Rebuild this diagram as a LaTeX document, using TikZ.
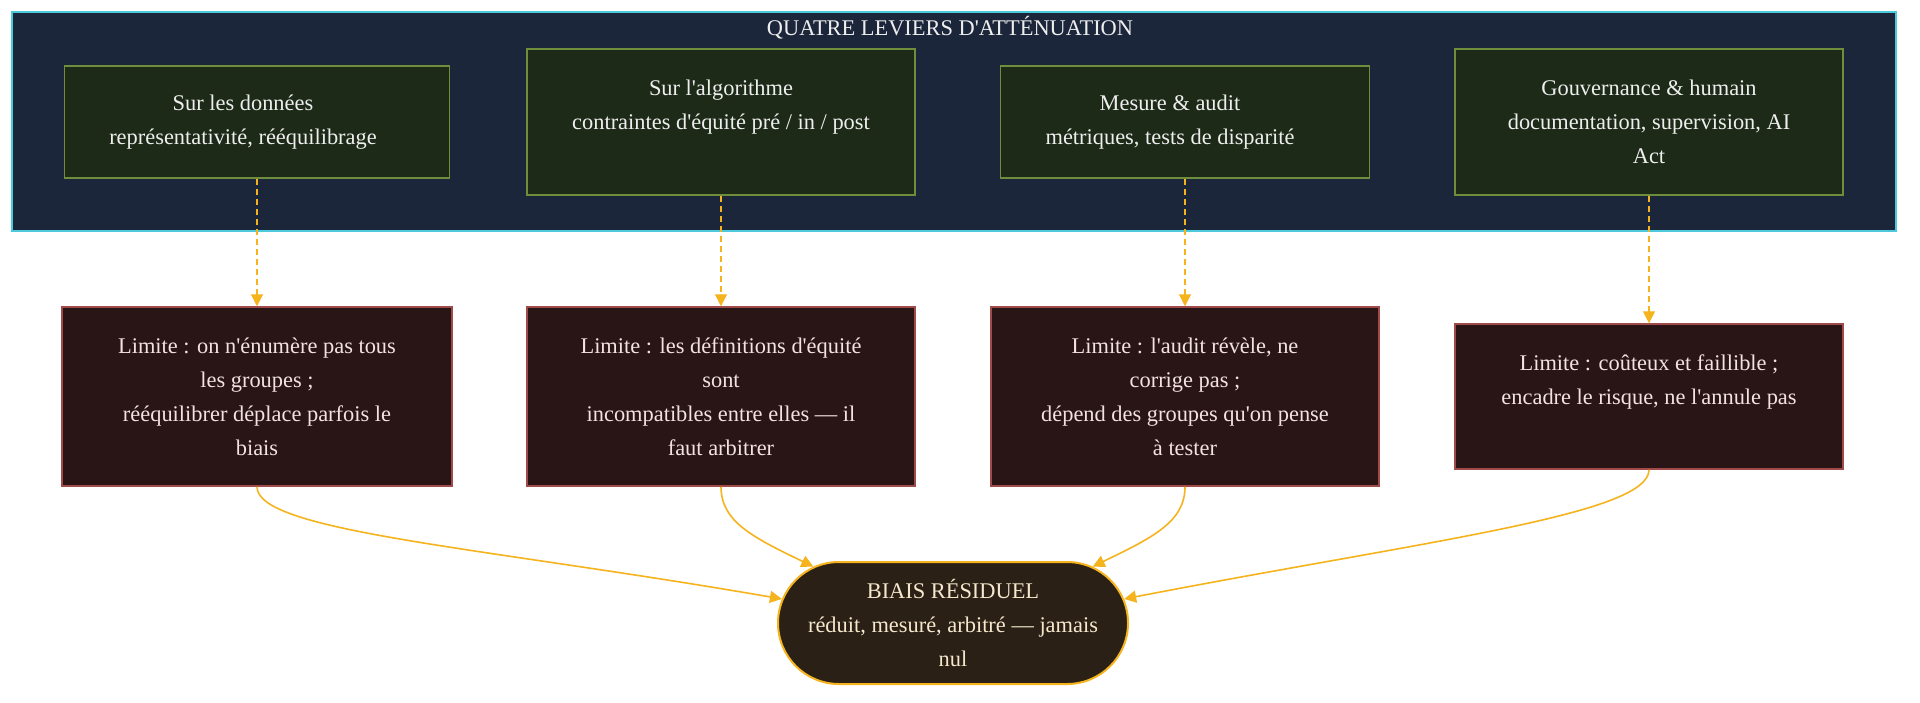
\documentclass[tikz,border=0pt]{standalone}
\usepackage{fontspec}
\newfontfamily\diagfont{Liberation Serif}
\usetikzlibrary{shapes.misc,arrows.meta}
\definecolor{bgnavy}{HTML}{1C263A}
\definecolor{cyanb}{HTML}{4CC9DC}
\definecolor{levfill}{HTML}{1D2A17}
\definecolor{levdraw}{HTML}{6E8E3C}
\definecolor{limfill}{HTML}{2A1516}
\definecolor{limdraw}{HTML}{A04A4A}
\definecolor{resfill}{HTML}{2B2016}
\definecolor{amber}{HTML}{F5B41E}
\definecolor{txtw}{HTML}{EEEEEE}
\definecolor{txtp}{HTML}{F2E2E2}
\definecolor{txtc}{HTML}{F5E8CC}
\begin{document}
\begin{tikzpicture}[x=0.5pt,y=-0.5pt,
  font=\diagfont\fontsize{11.2pt}{17pt}\selectfont,
  box/.style={rectangle, inner sep=0pt, align=center, line width=0.75pt},
  lever/.style={box, fill=levfill, draw=levdraw, text=txtw},
  levtext/.style={inner sep=0pt, align=center, text=txtw},
  limit/.style={box, fill=limfill, draw=limdraw, text=txtp},
  result/.style={rounded rectangle, inner sep=0pt, align=center, fill=resfill, draw=amber, line width=1pt, text=txtc, minimum width=175pt, minimum height=61pt},
  dflow/.style={draw=amber, dash pattern=on 3pt off 2pt, line width=0.6pt, -{Triangle[length=6pt,width=6pt]}},
  cflow/.style={draw=amber, line width=0.8pt, -{Triangle[length=6pt,width=6pt]}},
]
\useasboundingbox[fill=white] (0,0) rectangle (1920,702);
\node[rectangle, fill=bgnavy, draw=cyanb, line width=0.9pt, minimum width=942pt, minimum height=109.5pt, inner sep=0pt] (cont) at (954,121.5) {};
\node[text=txtw] (title) at (950,28) {QUATRE LEVIERS D'ATTÉNUATION};

\node[lever, minimum width=192.5pt, minimum height=56pt] (b1) at (257,122) {};
\node[levtext] (b1t) at (243,122) {Sur les données\\représentativité, rééquilibrage};
\node[lever, minimum width=194pt, minimum height=73pt] (b2) at (721,122) {Sur l'algorithme\\contraintes d'équité pré / in / post\\\mbox{}};
\node[lever, minimum width=184.5pt, minimum height=56pt] (b3) at (1185,122) {};
\node[levtext] (b3t) at (1170,122) {Mesure \& audit\\métriques, tests de disparité};
\node[lever, minimum width=194pt, minimum height=73pt] (b4) at (1649,122) {Gouvernance \& humain\\documentation, supervision, AI\\Act};

\node[limit, minimum width=195pt, minimum height=89.5pt] (l1) at (257,396.5) {Limite : on n'énumère pas tous\\les groupes ;\\rééquilibrer déplace parfois le\\biais};
\node[limit, minimum width=194pt, minimum height=89.5pt] (l2) at (721,396.5) {Limite : les définitions d'équité\\sont\\incompatibles entre elles — il\\faut arbitrer};
\node[limit, minimum width=194pt, minimum height=89.5pt] (l3) at (1185,396.5) {Limite : l'audit révèle, ne\\corrige pas ;\\dépend des groupes qu'on pense\\à tester};
\node[limit, minimum width=194pt, minimum height=72.5pt] (l4) at (1649,396.5) {Limite : coûteux et faillible ;\\encadre le risque, ne l'annule pas\\\mbox{}};

\node[result] (res) at (953,623) {BIAIS RÉSIDUEL\\réduit, mesuré, arbitré — jamais\\nul};

\draw[dflow] (b1) -- (l1);
\draw[dflow] (b2) -- (l2);
\draw[dflow] (b3) -- (l3);
\draw[dflow] (b4) -- (l4);

\draw[cflow] (l1.south) .. controls +(0,45) and +(-300,-52) .. (res.172);
\draw[cflow] (l2.south) .. controls +(0,35) and +(-60,-29) .. (res.158);
\draw[cflow] (l3.south) .. controls +(0,35) and +(60,-29) .. (res.22);
\draw[cflow] (l4.south) .. controls +(0,45) and +(300,-58) .. (res.8);
\end{tikzpicture}
\end{document}
